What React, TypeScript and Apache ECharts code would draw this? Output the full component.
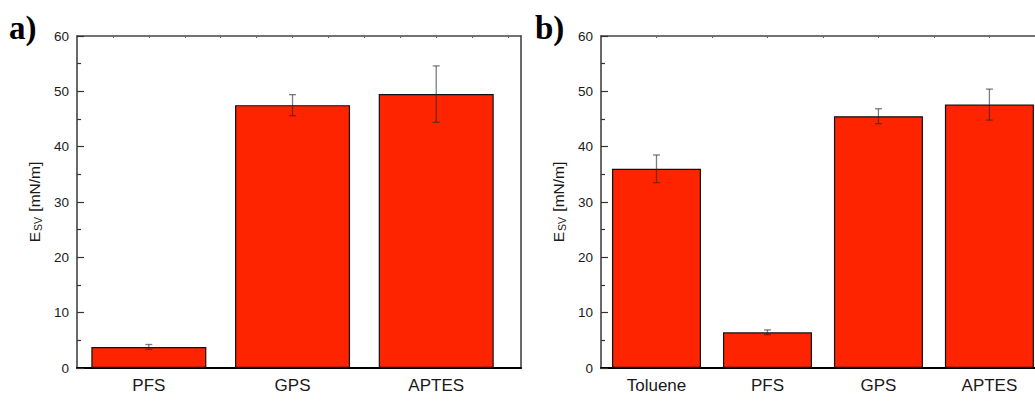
import React, { useEffect, useRef } from "react";
import * as echarts from "echarts";

const catsA = ["PFS", "GPS", "APTES"];
const valsA = [3.8, 47.5, 49.5];
const errA = [0.45, 1.9, 5.1];

const catsB = ["Toluene", "PFS", "GPS", "APTES"];
const valsB = [36.0, 6.45, 45.5, 47.6];
const errB = [2.5, 0.43, 1.35, 2.8];

const yTicks = [0, 10, 20, 30, 40, 50, 60];

const BAR = "#ff2400";
const FONT = "'Liberation Sans', Arial, sans-serif";

function errorRender(params: any, api: any) {
  const x = api.value(0);
  const y = api.value(1);
  const e = api.value(2);
  const top = api.coord([x, y + e]);
  const bot = api.coord([x, y - e]);
  const hw = 3.5;
  const st = { stroke: "rgba(40,40,40,0.6)", lineWidth: 1.3 };
  return {
    type: "group",
    children: [
      { type: "line", shape: { x1: top[0], y1: top[1], x2: bot[0], y2: bot[1] }, style: st },
      { type: "line", shape: { x1: top[0] - hw, y1: top[1], x2: top[0] + hw, y2: top[1] }, style: st },
      { type: "line", shape: { x1: bot[0] - hw, y1: bot[1], x2: bot[0] + hw, y2: bot[1] }, style: st },
    ],
  };
}

function xAxes(gridIndex: number, cats: string[], max: number, topTicks: number[]) {
  const idx = cats.map((_, i) => i + 1);
  return [
    {
      type: "value",
      gridIndex,
      min: 0.5,
      max,
      position: "bottom",
      axisLine: { show: true, lineStyle: { color: "#000", width: 2 } },
      axisTick: { show: false },
      splitLine: { show: false },
      axisLabel: {
        customValues: idx,
        formatter: (v: number) => cats[Math.round(v) - 1] ?? "",
        fontSize: 17,
        fontFamily: FONT,
        color: "#1a1a1a",
        margin: 9,
      },
    },
    {
      type: "value",
      gridIndex,
      min: 0.5,
      max,
      position: "top",
      axisLine: { show: true, onZero: false, lineStyle: { color: "#444", width: 1.6 } },
      axisTick: { show: true, inside: true, length: 2, customValues: topTicks, lineStyle: { color: "#666" } },
      axisLabel: { show: false },
      splitLine: { show: false },
    },
  ];
}

function yAxes(gridIndex: number) {
  return [
    {
      type: "value",
      gridIndex,
      min: 0,
      max: 60,
      interval: 10,
      position: "left",
      name: "{e|E}{s|SV}{e| [mN/m]}",
      nameLocation: "middle",
      nameGap: 34,
      nameRotate: 90,
      nameTextStyle: {
        color: "#1a1a1a",
        fontFamily: FONT,
        rich: {
          e: { fontSize: 15.5, fontFamily: FONT, color: "#1a1a1a" },
          s: { fontSize: 10.5, fontFamily: FONT, color: "#1a1a1a", verticalAlign: "bottom", padding: [6, 1, 0, 1] },
        },
      },
      axisLine: { show: true, lineStyle: { color: "#444", width: 1.6 } },
      axisTick: { show: true, inside: true, length: 7, lineStyle: { color: "#333", width: 1.2 } },
      minorTick: { show: true, splitNumber: 2, length: 4, lineStyle: { color: "#333", width: 1.2 } },
      splitLine: { show: false },
      axisLabel: {
        fontSize: 13.5,
        fontFamily: FONT,
        color: "#1a1a1a",
        margin: 8,
        customValues: yTicks,
      },
    },
    {
      type: "value",
      gridIndex,
      min: 0,
      max: 60,
      interval: 10,
      position: "right",
      axisLine: { show: true, lineStyle: { color: "#444", width: 1.6 } },
      axisTick: { show: false },
      axisLabel: { show: false },
      splitLine: { show: false },
    },
  ];
}

export default function App() {
  const ref = useRef<HTMLDivElement>(null);
  useEffect(() => {
    if (!ref.current) return;
    const chart = echarts.init(ref.current, undefined, { renderer: "svg" });
    const option: any = {
      animation: false,
      backgroundColor: "#fff",
      grid: [
        { left: 77, top: 36, width: 444, height: 332, outerBoundsMode: "none", containLabel: false },
        { left: 601, top: 36, width: 455, height: 332, outerBoundsMode: "none", containLabel: false },
      ],
      xAxis: [
        ...xAxes(0, catsA, 3.59, [0.75, 1, 1.25, 1.5, 1.75, 2, 2.25, 2.5, 2.75, 3, 3.25, 3.5]),
        ...xAxes(1, catsB, 4.6, [1, 1.5, 2, 2.5, 3, 3.5, 4, 4.5]),
      ],
      yAxis: [...yAxes(0), ...yAxes(1)],
      graphic: [
        {
          type: "text",
          left: 9,
          top: 11,
          style: { text: "a)", font: "bold 33px 'Liberation Serif', 'Times New Roman', serif", fill: "#000" },
        },
        {
          type: "text",
          left: 535,
          top: 11,
          style: { text: "b)", font: "bold 33px 'Liberation Serif', 'Times New Roman', serif", fill: "#000" },
        },
      ],
      series: [
        {
          type: "bar",
          xAxisIndex: 0,
          yAxisIndex: 0,
          barWidth: 115,
          data: valsA.map((v, i) => [i + 1, v]),
          itemStyle: { color: BAR, borderColor: "#111", borderWidth: 1.2 },
        },
        {
          type: "custom",
          xAxisIndex: 0,
          yAxisIndex: 0,
          renderItem: errorRender,
          data: valsA.map((v, i) => [i + 1, v, errA[i]]),
          z: 5,
        },
        {
          type: "bar",
          xAxisIndex: 2,
          yAxisIndex: 2,
          barWidth: 89,
          data: valsB.map((v, i) => [i + 1, v]),
          itemStyle: { color: BAR, borderColor: "#111", borderWidth: 1.2 },
        },
        {
          type: "custom",
          xAxisIndex: 2,
          yAxisIndex: 2,
          renderItem: errorRender,
          data: valsB.map((v, i) => [i + 1, v, errB[i]]),
          z: 5,
        },
      ],
    };
    chart.setOption(option);
    return () => chart.dispose();
  }, []);
  return (
    <div
      ref={ref}
      style={{ position: "fixed", left: 0, top: 0, width: 1035, height: 401, background: "#fff" }}
    />
  );
}
